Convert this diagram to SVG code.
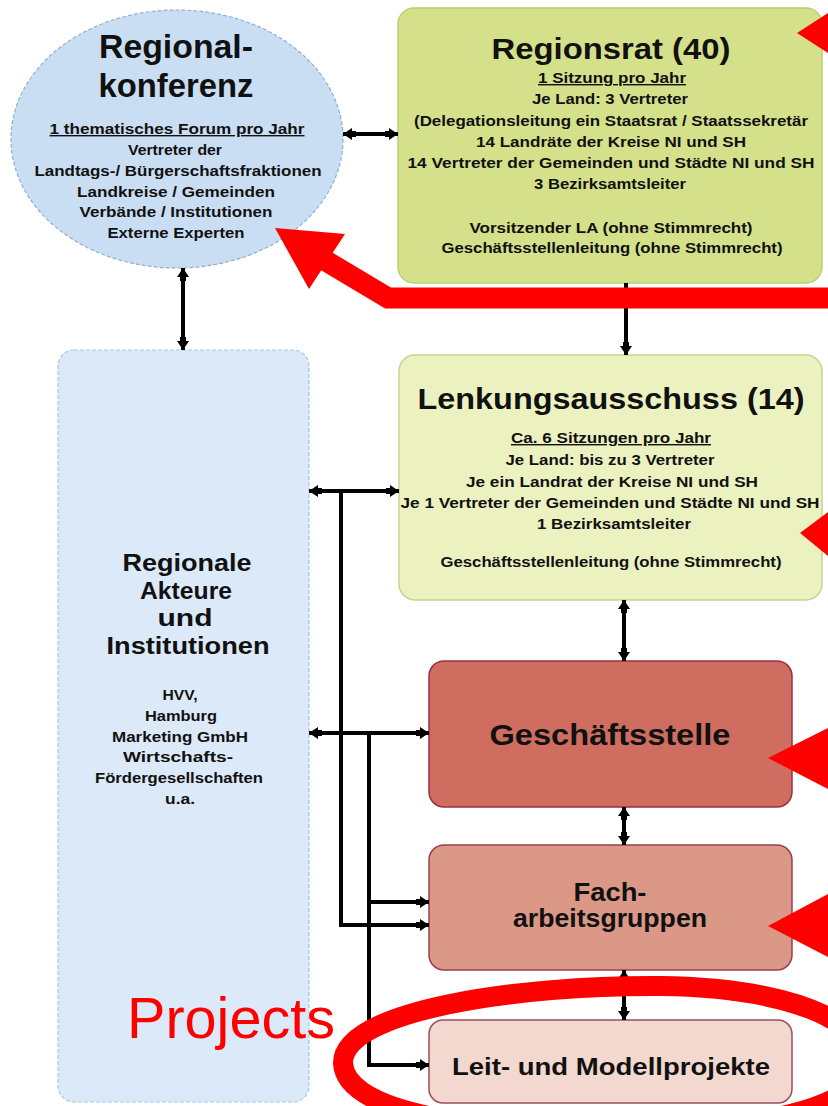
<svg xmlns="http://www.w3.org/2000/svg" width="828" height="1106" viewBox="0 0 828 1106">
<style>
.t{font-family:"Liberation Sans",Arial,sans-serif;font-weight:bold;fill:#111;text-anchor:middle}
.s{font-size:14px}
.h{font-size:30px}
.u{text-decoration:underline}
.c{stroke:#000;stroke-width:4;fill:none}
.red{fill:#ff0000}
</style>
<defs>
<marker id="ah" viewBox="0 0 13 12" refX="13" refY="6" markerWidth="13" markerHeight="12" markerUnits="userSpaceOnUse" orient="auto-start-reverse">
<path d="M0,3 L4,3 L4,0 L13,6 L4,12 L4,9 L0,9 Z" fill="#000"/>
</marker>
</defs>
<rect width="828" height="1106" fill="#ffffff"/>

<g id="regionalkonferenz">
<ellipse cx="177" cy="139" rx="166" ry="129" fill="#c9def3" stroke="#8fb0d0" stroke-width="1.2" stroke-dasharray="4 2"/>
<text class="t" x="176" y="58" font-size="33" textLength="154" lengthAdjust="spacingAndGlyphs">Regional-</text>
<text class="t" x="176" y="97" font-size="33" textLength="155" lengthAdjust="spacingAndGlyphs">konferenz</text>
<text class="t s u" x="177" y="134" textLength="255" lengthAdjust="spacingAndGlyphs">1 thematisches Forum pro Jahr</text>
<text class="t s" x="175" y="155" textLength="94" lengthAdjust="spacingAndGlyphs">Vertreter der</text>
<text class="t s" x="178" y="176" textLength="287" lengthAdjust="spacingAndGlyphs">Landtags-/ Bürgerschaftsfraktionen</text>
<text class="t s" x="176" y="197" textLength="198" lengthAdjust="spacingAndGlyphs">Landkreise / Gemeinden</text>
<text class="t s" x="176" y="217" textLength="193" lengthAdjust="spacingAndGlyphs">Verbände / Institutionen</text>
<text class="t s" x="176" y="238" textLength="137" lengthAdjust="spacingAndGlyphs">Externe Experten</text>
</g>

<g id="regionsrat">
<rect x="398" y="8" width="424" height="275" rx="16" fill="#d5e08b" stroke="#c1cd70" stroke-width="1.5"/>
<text class="t h" x="611" y="59" textLength="239" lengthAdjust="spacingAndGlyphs">Regionsrat (40)</text>
<text class="t s u" x="612" y="83" textLength="148" lengthAdjust="spacingAndGlyphs">1 Sitzung pro Jahr</text>
<text class="t s" x="610" y="104" textLength="156" lengthAdjust="spacingAndGlyphs">Je Land: 3 Vertreter</text>
<text class="t s" x="611" y="126" textLength="394" lengthAdjust="spacingAndGlyphs">(Delegationsleitung ein Staatsrat / Staatssekretär</text>
<text class="t s" x="611" y="147" textLength="270" lengthAdjust="spacingAndGlyphs">14 Landräte der Kreise NI und SH</text>
<text class="t s" x="611" y="168" textLength="407" lengthAdjust="spacingAndGlyphs">14 Vertreter der Gemeinden und Städte NI und SH</text>
<text class="t s" x="610" y="189" textLength="152" lengthAdjust="spacingAndGlyphs">3 Bezirksamtsleiter</text>
<text class="t s" x="611" y="233" textLength="283" lengthAdjust="spacingAndGlyphs">Vorsitzender LA (ohne Stimmrecht)</text>
<text class="t s" x="612" y="253" textLength="341" lengthAdjust="spacingAndGlyphs">Geschäftsstellenleitung (ohne Stimmrecht)</text>
</g>

<g id="regionale-akteure">
<rect x="58" y="350" width="251" height="752" rx="16" fill="#dce9f8" stroke="#a9c8e8" stroke-width="1.2" stroke-dasharray="4 2"/>
<text class="t" x="187" y="571" font-size="23" textLength="129" lengthAdjust="spacingAndGlyphs">Regionale</text>
<text class="t" x="186" y="599" font-size="23" textLength="92" lengthAdjust="spacingAndGlyphs">Akteure</text>
<text class="t" x="185" y="626" font-size="23" textLength="55" lengthAdjust="spacingAndGlyphs">und</text>
<text class="t" x="188" y="654" font-size="23" textLength="163" lengthAdjust="spacingAndGlyphs">Institutionen</text>
<text class="t s" x="180" y="700" textLength="35" lengthAdjust="spacingAndGlyphs">HVV,</text>
<text class="t s" x="181" y="721" textLength="72" lengthAdjust="spacingAndGlyphs">Hamburg</text>
<text class="t s" x="180" y="742" textLength="136" lengthAdjust="spacingAndGlyphs">Marketing GmbH</text>
<text class="t s" x="178" y="762" textLength="110" lengthAdjust="spacingAndGlyphs">Wirtschafts-</text>
<text class="t s" x="179" y="783" textLength="168" lengthAdjust="spacingAndGlyphs">Fördergesellschaften</text>
<text class="t s" x="180" y="804" textLength="30" lengthAdjust="spacingAndGlyphs">u.a.</text>
</g>

<g id="lenkungsausschuss">
<rect x="399" y="355" width="423" height="245" rx="16" fill="#ecf1c0" stroke="#c9d28e" stroke-width="1.5"/>
<text class="t h" x="611" y="409" textLength="387" lengthAdjust="spacingAndGlyphs">Lenkungsausschuss (14)</text>
<text class="t s u" x="611" y="443" textLength="200" lengthAdjust="spacingAndGlyphs">Ca. 6 Sitzungen pro Jahr</text>
<text class="t s" x="610" y="465" textLength="209" lengthAdjust="spacingAndGlyphs">Je Land: bis zu 3 Vertreter</text>
<text class="t s" x="612" y="487" textLength="292" lengthAdjust="spacingAndGlyphs">Je ein Landrat der Kreise NI und SH</text>
<text class="t s" x="610" y="508" textLength="419" lengthAdjust="spacingAndGlyphs">Je 1 Vertreter der Gemeinden und Städte NI und SH</text>
<text class="t s" x="614" y="529" textLength="154" lengthAdjust="spacingAndGlyphs">1 Bezirksamtsleiter</text>
<text class="t s" x="611" y="567" textLength="341" lengthAdjust="spacingAndGlyphs">Geschäftsstellenleitung (ohne Stimmrecht)</text>
</g>

<g id="geschaeftsstelle">
<rect x="429" y="661" width="363" height="146" rx="15" fill="#cf6d60" stroke="#9b2f45" stroke-width="1.5"/>
<text class="t h" x="610" y="745" textLength="241" lengthAdjust="spacingAndGlyphs">Geschäftsstelle</text>
</g>

<g id="facharbeitsgruppen">
<rect x="429" y="845" width="363" height="125" rx="15" fill="#db9886" stroke="#9b3f4f" stroke-width="1.5"/>
<text class="t" x="610" y="901" font-size="25" textLength="73" lengthAdjust="spacingAndGlyphs">Fach-</text>
<text class="t" x="610" y="927" font-size="25" textLength="194" lengthAdjust="spacingAndGlyphs">arbeitsgruppen</text>
</g>

<g id="leitprojekte">
<rect x="429" y="1020" width="363" height="83" rx="14" fill="#f2d8cf" stroke="#9b4f5f" stroke-width="1.5"/>
<text class="t" x="611" y="1075" font-size="24" textLength="318" lengthAdjust="spacingAndGlyphs">Leit- und Modellprojekte</text>
</g>

<g id="connectors">
<path class="c" d="M343 134 H398" marker-start="url(#ah)" marker-end="url(#ah)"/>
<path class="c" d="M183 268 V350" marker-start="url(#ah)" marker-end="url(#ah)"/>
<path class="c" d="M626 283 V355" marker-end="url(#ah)"/>
<path class="c" d="M309 491 H399" marker-start="url(#ah)" marker-end="url(#ah)"/>
<path class="c" d="M341 491 V925 H429" marker-end="url(#ah)"/>
<path class="c" d="M309 733 H429" marker-start="url(#ah)" marker-end="url(#ah)"/>
<path class="c" d="M369 733 V1065 H429" marker-end="url(#ah)"/>
<path class="c" d="M369 902 H429" marker-end="url(#ah)"/>
<path class="c" d="M624 600 V661" marker-start="url(#ah)" marker-end="url(#ah)"/>
<path class="c" d="M624 807 V845" marker-start="url(#ah)" marker-end="url(#ah)"/>
<path class="c" d="M624 970 V1020" marker-start="url(#ah)" marker-end="url(#ah)"/>
</g>

<g id="annotations">
<path d="M840 298 L388 298 L326 261" stroke="#ff0000" stroke-width="21" fill="none" stroke-linejoin="miter"/>
<polygon class="red" points="275,228 345,234 309,289"/>
<polygon class="red" points="797,33 828,13 828,53"/>
<polygon class="red" points="800,533 828,512 828,556"/>
<polygon class="red" points="768,758 828,728 828,789"/>
<polygon class="red" points="768,926 828,894 828,957"/>
<path d="M343 1063 C343 1010 520 985 660 986 C760 987 860 1010 862 1060 C864 1110 760 1130 600 1130 C440 1130 345 1105 343 1063 Z" fill="none" stroke="#ff0000" stroke-width="20"/>
<text x="127" y="1038" font-family="'Liberation Sans',Arial,sans-serif" font-size="57" fill="#ff0000" textLength="208" lengthAdjust="spacingAndGlyphs">Projects</text>
</g>
</svg>
